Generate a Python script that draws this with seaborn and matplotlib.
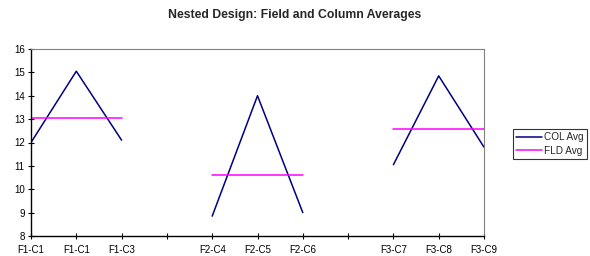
import matplotlib
matplotlib.use("Agg")
import matplotlib.pyplot as plt
import seaborn as sns
import pandas as pd
import numpy as np
from matplotlib.lines import Line2D

sns.set_style("white")
plt.rcParams['font.family'] = ['Liberation Sans', 'DejaVu Sans']

tick_labels = ["F1-C1", "F1-C1", "F1-C3", "", "F2-C4", "F2-C5", "F2-C6", "", "F3-C7", "F3-C8", "F3-C9"]
fields = ["F1", "F2", "F3"]
field_positions = [[0, 1, 2], [4, 5, 6], [8, 9, 10]]
col_avg = [[12.0, 15.05, 12.1], [8.85, 14.0, 9.0], [11.05, 14.85, 11.8]]
fld_avg = [13.05, 10.62, 12.57]

col_rows = []
fld_rows = []
for f, pos, vals, fa in zip(fields, field_positions, col_avg, fld_avg):
    for p, v in zip(pos, vals):
        col_rows.append({"field": f, "pos": p, "val": v})
    fld_rows.append({"field": f, "pos": pos[0], "val": fa})
    fld_rows.append({"field": f, "pos": pos[-1], "val": fa})
col_df = pd.DataFrame(col_rows)
fld_df = pd.DataFrame(fld_rows)

fig = plt.figure(figsize=(5.9, 2.56), dpi=100)
ax = fig.add_axes([31/590, 1 - 236/256, (484-31)/590, (236-49)/256])

sns.lineplot(data=col_df, x="pos", y="val", units="field", estimator=None,
             color="#000080", lw=1.1, ax=ax, legend=False)
sns.lineplot(data=fld_df, x="pos", y="val", units="field", estimator=None,
             color="#FF00FF", lw=1.1, ax=ax, legend=False)

ax.set_xlim(0, 10)
ax.set_ylim(8, 16)
ax.set_xticks(range(len(tick_labels)))
ax.set_xticklabels(tick_labels, fontsize=7)
ax.set_yticks(range(8, 17))
ax.set_yticklabels([str(v) for v in range(8, 17)], fontsize=7)
ax.set_xlabel("")
ax.set_ylabel("")
ax.tick_params(axis="both", bottom=True, left=True, direction="inout",
               length=5, width=0.8, color="black", labelcolor="black")
ax.tick_params(axis="x", pad=4)
ax.tick_params(axis="y", pad=2)
for s in ["left", "bottom"]:
    ax.spines[s].set_color("black")
    ax.spines[s].set_linewidth(1.0)
for s in ["top", "right"]:
    ax.spines[s].set_color("#808080")
    ax.spines[s].set_linewidth(0.8)

fig.text(295/590, 1 - 15/256, "Nested Design: Field and Column Averages",
         ha="center", va="center", fontsize=8.8, fontweight="bold")

handles = [Line2D([], [], color="#000080", lw=1.1), Line2D([], [], color="#FF00FF", lw=1.1)]
leg = fig.legend(handles, ["COL Avg", "FLD Avg"], loc="center",
                 bbox_to_anchor=(550/590, 1 - 144/256), fontsize=7.2,
                 frameon=True, fancybox=False, handlelength=2.6, handletextpad=0.2,
                 borderpad=0.35, labelspacing=0.35, borderaxespad=0)
leg.get_frame().set_edgecolor("black")
leg.get_frame().set_linewidth(0.8)

fig.savefig("out.png", dpi=100)
